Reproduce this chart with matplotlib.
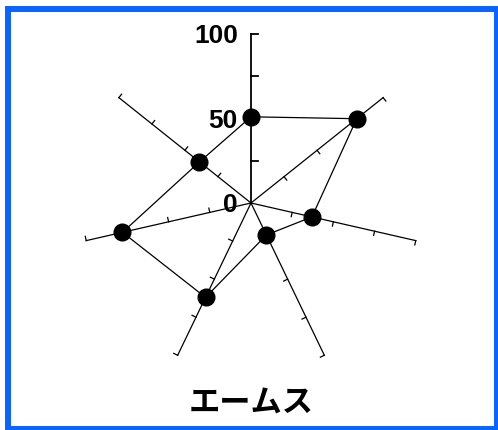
import numpy as np
import matplotlib
matplotlib.use("Agg")
import matplotlib.pyplot as plt
from matplotlib.patches import Rectangle

# seven spokes, clockwise from the top
values = [51, 80, 37, 21, 62, 78, 39]
ticks = [25, 50, 75, 100]
tick_labels = {0: "0", 50: "50", 100: "100"}
title = "エームス"

n = len(values)
angles = np.pi / 2 - np.arange(n) * 2 * np.pi / n

fig = plt.figure(figsize=(4.98, 4.30), dpi=100)
ax = fig.add_axes([0, 0, 1, 1])
scale = 1.69  # pixels per unit
ax.set_xlim(-251 / scale, (498 - 251) / scale)
ax.set_ylim(-(430 - 203) / scale, 203 / scale)
ax.axis("off")

# spokes with ticks on the clockwise side
for i, a in enumerate(angles):
    d = np.array([np.cos(a), np.sin(a)])
    perp = np.array([np.sin(a), -np.cos(a)])
    lw = 1.3 if i == 0 else 0.9
    tl = 4.0 if i == 0 else 2.6
    ax.plot([0, 100 * d[0]], [0, 100 * d[1]], color="black", lw=lw)
    for t in ticks:
        p = t * d
        q = p + tl * perp
        ax.plot([p[0], q[0]], [p[1], q[1]], color="black", lw=lw)

# data polygon
xs = [v * np.cos(a) for v, a in zip(values, angles)]
ys = [v * np.sin(a) for v, a in zip(values, angles)]
ax.plot(xs + xs[:1], ys + ys[:1], color="black", lw=0.9)
ax.plot(xs, ys, "o", color="black", markersize=12)

# value labels on the vertical spoke
for v, s in tick_labels.items():
    ax.text(-7.8, v - 1.4, s, ha="right", va="center", fontsize=19,
            fontweight="bold", family=["Liberation Sans", "DejaVu Sans"])

fig.text(0.505, 0.062, title, ha="center", va="center", fontsize=22.5,
         fontweight="bold", family=["Noto Sans CJK JP", "DejaVu Sans"])

fig.patches.append(Rectangle((8 / 498, 1 / 430), 489 / 498, 420 / 430,
                             transform=fig.transFigure, fill=False,
                             edgecolor="#0a64ff", lw=4.3))

fig.savefig("out.png", dpi=100)
